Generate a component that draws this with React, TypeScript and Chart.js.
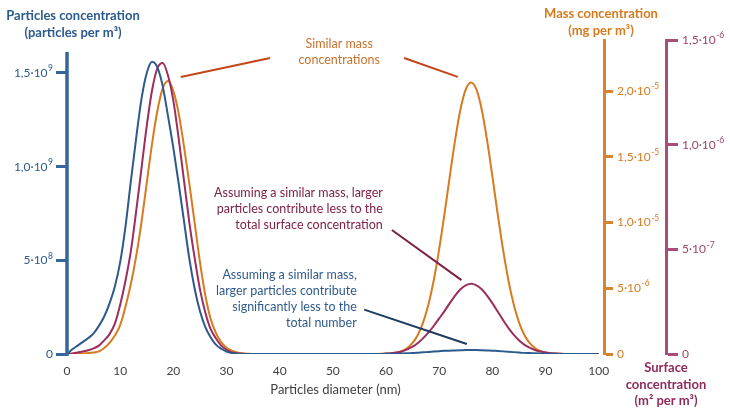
import { useEffect, useRef } from 'react';
import { Chart, registerables } from 'chart.js';

Chart.register(...registerables);

const FONT = "Lato, 'Open Sans', sans-serif";

// particle diameter (nm)
const diameters = [
  0, 1, 2, 3, 4, 5, 6, 7, 8, 9, 10, 11, 12, 13, 14, 15, 16, 17, 18, 19,
  20, 21, 22, 23, 24, 25, 26, 27, 28, 29, 30, 31, 32, 33, 34, 35, 36, 37, 38, 39,
  40, 41, 42, 43, 44, 45, 46, 47, 48, 49, 50, 51, 52, 53, 54, 55, 56, 57, 58, 59,
  60, 61, 62, 63, 64, 65, 66, 67, 68, 69, 70, 71, 72, 73, 74, 75, 76, 77, 78, 79,
  80, 81, 82, 83, 84, 85, 86, 87, 88, 89, 90, 91, 92, 93, 94, 95, 96, 97, 98, 99, 100,
];

// particles concentration, x10^9 particles per m3
const numberConc = [
  0, 0.025, 0.045, 0.065, 0.085, 0.11, 0.15, 0.2, 0.27, 0.36,
  0.49, 0.68, 0.92, 1.15, 1.36, 1.5, 1.56, 1.53, 1.43, 1.27,
  1.1, 0.91, 0.71, 0.51, 0.35, 0.23, 0.145, 0.09, 0.05, 0.028,
  0.013, 0.005, 0.002, 0, 0, 0, 0, 0, 0, 0,
  0, 0, 0, 0, 0, 0, 0, 0, 0, 0,
  0, 0, 0, 0, 0, 0, 0, 0, 0, 0,
  0.001, 0.001, 0.002, 0.003, 0.004, 0.005, 0.007, 0.009, 0.011, 0.013,
  0.015, 0.017, 0.018, 0.019, 0.02, 0.021, 0.021, 0.021, 0.02, 0.019,
  0.018, 0.016, 0.014, 0.012, 0.01, 0.008, 0.006, 0.005, 0.004, 0.003,
  0.002, 0.001, 0.001, 0, 0, 0, 0, 0, 0, 0, 0,
];

// surface concentration, x10^-6 m2 per m3
const surfaceConc = [
  0, 0.003, 0.007, 0.012, 0.018, 0.027, 0.04, 0.065, 0.095, 0.145,
  0.235, 0.35, 0.49, 0.68, 0.885, 1.09, 1.26, 1.365, 1.39, 1.33,
  1.21, 1.03, 0.83, 0.63, 0.46, 0.31, 0.2, 0.12, 0.075, 0.04,
  0.02, 0.008, 0.003, 0.001, 0, 0, 0, 0, 0, 0,
  0, 0, 0, 0, 0, 0, 0, 0, 0, 0,
  0, 0, 0, 0, 0, 0, 0, 0, 0, 0,
  0.002, 0.004, 0.007, 0.012, 0.022, 0.035, 0.053, 0.076, 0.103, 0.135,
  0.17, 0.205, 0.243, 0.279, 0.309, 0.328, 0.335, 0.328, 0.309, 0.279,
  0.243, 0.203, 0.163, 0.125, 0.093, 0.066, 0.045, 0.03, 0.019, 0.012,
  0.007, 0.004, 0.002, 0.001, 0, 0, 0, 0, 0, 0, 0,
];

// mass concentration, x10^-5 mg per m3
const massConc = [
  0, 0.001, 0.002, 0.004, 0.007, 0.012, 0.02, 0.045, 0.085, 0.14,
  0.22, 0.36, 0.53, 0.74, 1.0, 1.3, 1.6, 1.85, 2.02, 2.076,
  2.0, 1.83, 1.58, 1.3, 1.0, 0.7, 0.45, 0.27, 0.16, 0.09,
  0.048, 0.025, 0.012, 0.005, 0.002, 0, 0, 0, 0, 0,
  0, 0, 0, 0, 0, 0, 0, 0, 0, 0,
  0, 0, 0, 0, 0, 0, 0, 0, 0, 0.001,
  0.002, 0.005, 0.012, 0.024, 0.046, 0.084, 0.146, 0.242, 0.38, 0.565,
  0.797, 1.066, 1.353, 1.628, 1.859, 2.012, 2.065, 2.012, 1.859, 1.628,
  1.353, 1.066, 0.797, 0.565, 0.38, 0.242, 0.146, 0.084, 0.046, 0.024,
  0.012, 0.005, 0.002, 0.001, 0, 0, 0, 0, 0, 0, 0,
];

// axis ticks (values in the same units as the series above); "^" marks the exponent
const numberTicks = [0, 0.5, 1, 1.5];
const numberTickLabels = ['0', '5·10^8', '1,0·10^9', '1,5·10^9'];
const massTicks = [0, 0.5, 1, 1.5, 2];
const massTickLabels = ['0', '5·10^-6', '1,0·10^-5', '1,5·10^-5', '2,0·10^-5'];
const surfaceTicks = [0, 0.5, 1, 1.5];
const surfaceTickLabels = ['0', '5·10^-7', '1,0·10^-6', '1,5·10^-6'];

const BLUE = '#2d5a8c';
const BLUE_AXIS = '#35659a';
const MAGENTA = '#9c2d5d';
const MAGENTA_AXIS = '#a84c78';
const MAGENTA_TEXT = '#a0456f';
const ORANGE = '#d67b1f';
const ORANGE_AXIS = '#d9832c';

// call-outs, placed in (diameter, particles-axis) units
const notes = [
  {
    lines: ['Similar mass', 'concentrations'],
    x: 51.2, y: 1.655, align: 'center', color: '#c8732c',
    links: [[21.4, 1.479, 38.2, 1.58], [63.4, 1.58, 73.5, 1.479]], linkColor: '#c2461a',
  },
  {
    lines: ['Assuming a similar mass, larger', 'particles contribute less to the', 'total surface concentration'],
    x: 59.4, y: 0.858, align: 'right', color: '#7e2149',
    links: [[61.1, 0.662, 74.2, 0.394]], linkColor: '#7b2043',
  },
  {
    lines: ['Assuming a similar mass,', 'larger particles contribute', 'significantly less to the', 'total number'],
    x: 54.5, y: 0.422, align: 'right', color: '#2f5b8c',
    links: [[55.9, 0.237, 75.2, 0.053]], linkColor: '#1e3a5e',
  },
];

const numberTitle = ['Particles concentration', '(particles per m³)'];
const massTitle = ['Mass concentration', '(mg per m³)'];
const surfaceTitle = ['Surface', 'concentration', '(m² per m³)'];
const xTitle = 'Particles diameter (nm)';

// tick label with a raised exponent, anchored left or right at x
function drawPowerLabel(ctx: CanvasRenderingContext2D, label: string, x: number, y: number, align: 'left' | 'right') {
  const [base, exp] = label.split('^');
  ctx.textAlign = 'left';
  ctx.font = `12px ${FONT}`;
  const wb = ctx.measureText(base).width;
  ctx.font = `8.5px ${FONT}`;
  const we = exp ? ctx.measureText(exp).width + 0.5 : 0;
  const x0 = align === 'left' ? x : x - wb - we;
  ctx.font = `12px ${FONT}`;
  ctx.fillText(base, x0, y);
  if (exp) {
    ctx.font = `8.5px ${FONT}`;
    ctx.fillText(exp, x0 + wb + 0.5, y - 4.5);
  }
}

const extrasPlugin = {
  id: 'extras',
  afterDraw(chart: any) {
    const { ctx, chartArea, scales } = chart;
    const xs = scales.x;
    const yN = scales.yN;
    const yM = scales.yM;
    const yS = scales.yS;
    ctx.save();

    // particles axis line (shorter than the chart area)
    ctx.strokeStyle = BLUE_AXIS;
    ctx.lineWidth = 3.5;
    ctx.beginPath();
    ctx.moveTo(chartArea.left, yN.getPixelForValue(1.612));
    ctx.lineTo(chartArea.left, yN.getPixelForValue(0) + 2);
    ctx.stroke();

    ctx.textBaseline = 'middle';

    // tick labels
    ctx.fillStyle = BLUE;
    numberTicks.forEach((v, i) => drawPowerLabel(ctx, numberTickLabels[i], chartArea.left - 14, yN.getPixelForValue(v), 'right'));
    ctx.fillStyle = ORANGE;
    massTicks.forEach((v, i) => drawPowerLabel(ctx, massTickLabels[i], yM.left + 13, yM.getPixelForValue(v), 'left'));
    ctx.fillStyle = MAGENTA_TEXT;
    surfaceTicks.forEach((v, i) => drawPowerLabel(ctx, surfaceTickLabels[i], yS.left + 16, yS.getPixelForValue(v), 'left'));

    // axis titles
    ctx.textAlign = 'center';
    ctx.fillStyle = BLUE;
    ctx.font = `bold 13px ${FONT}`;
    numberTitle.forEach((t, i) => ctx.fillText(t, chartArea.left + 6, 16 + i * 17));

    ctx.fillStyle = ORANGE;
    massTitle.forEach((t, i) => ctx.fillText(t, yM.left - 3, 14 + i * 17));

    ctx.fillStyle = '#8e2b59';
    surfaceTitle.forEach((t, i) => ctx.fillText(t, yS.left, 368 + i * 16.5));

    ctx.fillStyle = '#404040';
    ctx.font = `13px ${FONT}`;
    ctx.fillText(xTitle, (chartArea.left + chartArea.right) / 2, chartArea.bottom + 36);

    // call-outs
    ctx.font = `12.5px ${FONT}`;
    notes.forEach((n) => {
      ctx.fillStyle = n.color;
      ctx.textAlign = n.align;
      const px = xs.getPixelForValue(n.x);
      const py = yN.getPixelForValue(n.y);
      n.lines.forEach((t, i) => ctx.fillText(t, px, py + i * 16));
      ctx.strokeStyle = n.linkColor;
      ctx.lineWidth = 2;
      n.links.forEach(([x1, y1, x2, y2]) => {
        ctx.beginPath();
        ctx.moveTo(xs.getPixelForValue(x1), yN.getPixelForValue(y1));
        ctx.lineTo(xs.getPixelForValue(x2), yN.getPixelForValue(y2));
        ctx.stroke();
      });
    });

    ctx.restore();
  },
};

const tickFont = { family: FONT, size: 12 };

export default function App() {
  const canvasRef = useRef<HTMLCanvasElement | null>(null);

  useEffect(() => {
    if (!canvasRef.current) return;

    const series = (values: number[]) => diameters.map((d, i) => ({ x: d, y: values[i] }));

    const chart = new Chart(canvasRef.current, {
      type: 'line',
      data: {
        datasets: [
          { label: 'Particles', data: series(numberConc), yAxisID: 'yN', borderColor: BLUE, borderWidth: 2 },
          { label: 'Surface', data: series(surfaceConc), yAxisID: 'yS', borderColor: MAGENTA, borderWidth: 2 },
          { label: 'Mass', data: series(massConc), yAxisID: 'yM', borderColor: ORANGE, borderWidth: 2 },
        ],
      },
      options: {
        animation: false,
        responsive: true,
        maintainAspectRatio: false,
        layout: { padding: { top: 40, left: 0, right: 0, bottom: 0 } },
        elements: { point: { radius: 0 }, line: { cubicInterpolationMode: 'monotone' } },
        plugins: { legend: { display: false }, tooltip: { enabled: false } },
        scales: {
          x: {
            type: 'linear',
            min: 0,
            max: 101,
            grid: { display: false },
            border: { display: false },
            ticks: { stepSize: 10, includeBounds: false, color: '#404040', font: tickFont, padding: 2 },
            afterFit: (s: any) => { s.height = 63; },
          },
          yN: {
            position: 'left',
            min: 0,
            max: 1.676,
            border: { display: false },
            grid: { drawOnChartArea: false, tickLength: 11, tickWidth: 3, tickColor: BLUE_AXIS },
            ticks: { display: false },
            afterBuildTicks: (s: any) => { s.ticks = numberTicks.map((v) => ({ value: v })); },
            afterFit: (s: any) => { s.width = 67; },
          },
          yM: {
            position: 'right',
            weight: 0,
            min: 0,
            max: 2.388,
            border: { display: true, color: ORANGE_AXIS, width: 3 },
            grid: { drawOnChartArea: false, tickLength: 9, tickWidth: 3, tickColor: ORANGE_AXIS },
            ticks: { display: false },
            afterBuildTicks: (s: any) => { s.ticks = massTicks.map((v) => ({ value: v })); },
            afterFit: (s: any) => { s.width = 62; },
          },
          yS: {
            position: 'right',
            weight: 1,
            min: 0,
            max: 1.5,
            border: { display: true, color: MAGENTA_AXIS, width: 3 },
            grid: { drawOnChartArea: false, tickLength: 12, tickWidth: 3, tickColor: MAGENTA_AXIS },
            ticks: { display: false },
            afterBuildTicks: (s: any) => { s.ticks = surfaceTicks.map((v) => ({ value: v })); },
            afterFit: (s: any) => { s.width = 64; },
          },
        },
      } as any,
      plugins: [extrasPlugin],
    });

    return () => chart.destroy();
  }, []);

  return (
    <div style={{ position: 'absolute', left: 0, top: 0, width: 730, height: 417, background: '#ffffff' }}>
      <canvas ref={canvasRef} />
    </div>
  );
}
